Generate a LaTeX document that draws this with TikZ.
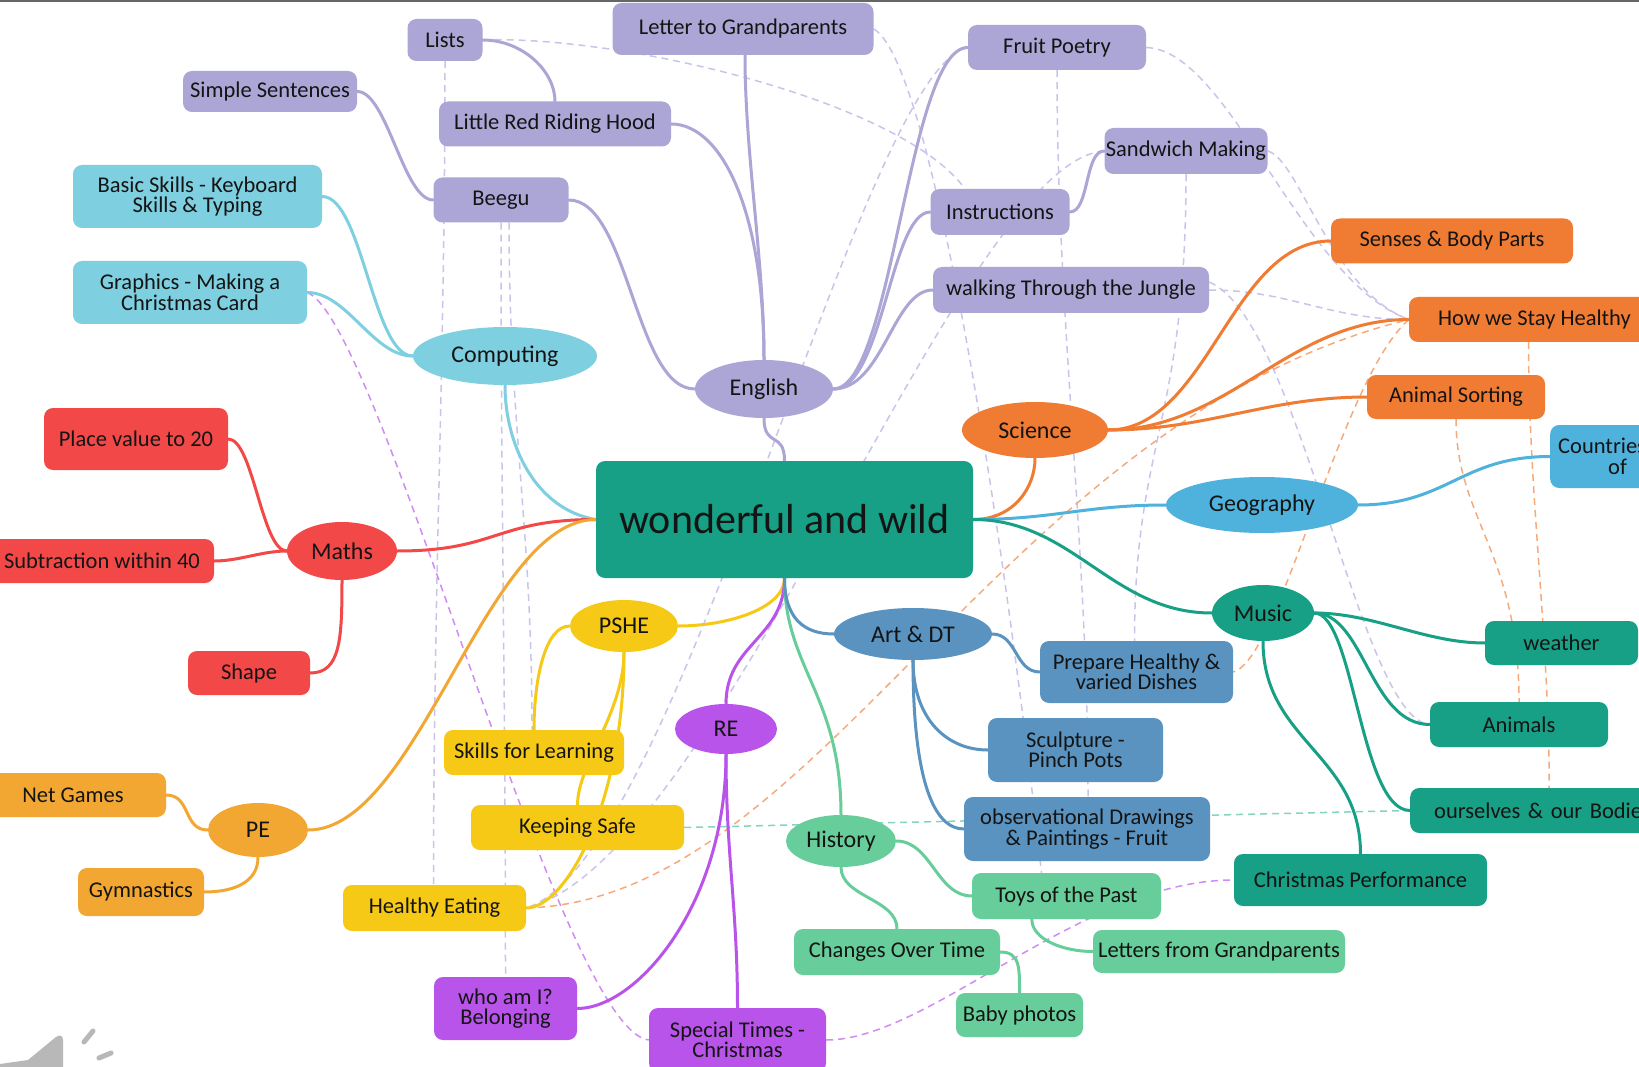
\documentclass[tikz,border=0pt]{standalone}
\usepackage{fontspec}
\setmainfont{Carlito}
\usetikzlibrary{shapes.geometric}
\pgfdeclarelayer{back}
\pgfdeclarelayer{dl}
\pgfdeclarelayer{bg}
\pgfsetlayers{back,dl,bg,main}
\definecolor{teal1}{HTML}{17A085}
\definecolor{engc}{HTML}{ABA6D5}
\definecolor{engd}{HTML}{C9C5EA}
\definecolor{comp}{HTML}{7ECFE0}
\definecolor{mathc}{HTML}{F24848}
\definecolor{pec}{HTML}{F3A733}
\definecolor{pshec}{HTML}{F6C916}
\definecolor{rec}{HTML}{B954EA}
\definecolor{red2}{HTML}{D08CF2}
\definecolor{hist}{HTML}{67CD9A}
\definecolor{art}{HTML}{5A93C0}
\definecolor{sci}{HTML}{F07B32}
\definecolor{scid}{HTML}{F6AA7C}
\definecolor{geo}{HTML}{4FB2DC}
\definecolor{tealdash}{HTML}{86D3BF}
\definecolor{txt}{HTML}{141414}
\newcommand\mmlab{\fontsize{22.5}{20.5}\selectfont}
\newcommand\mmtop{\fontsize{24}{26}\selectfont}
\begin{document}
\begin{tikzpicture}[x=1pt,y=-1pt,
  box/.style={rectangle, rounded corners=9pt, inner sep=0pt, align=center, text=txt, font=\mmlab},
  topic/.style={ellipse, inner sep=0pt, text=txt, font=\mmtop},
  link/.style={line width=3pt, line cap=round},
  xlink/.style={line width=1.5pt, dash pattern=on 7pt off 5pt}]
\useasboundingbox (0,0) rectangle (1639,1067);
\begin{pgfonlayer}{back}
\fill[white] (0,0) rectangle (1639,1067);
\end{pgfonlayer}
\draw[line width=2pt, black!60] (0,1) -- (1639,1);

% central
\node[box, fill=teal1, minimum width=377pt, minimum height=117pt, font=\fontsize{42}{44}\selectfont] (c) at (784.5,519.5) {wonderful and wild};

% topics
\node[topic, fill=engc, minimum width=138pt, minimum height=58pt] (eng) at (764,389) {English};
\node[topic, fill=comp, minimum width=184pt, minimum height=58pt] (comp) at (505,356) {Computing};
\node[topic, fill=sci, minimum width=146pt, minimum height=56pt] (sci) at (1035,430) {Science};
\node[topic, fill=geo, minimum width=192pt, minimum height=56pt] (geo) at (1262,505) {Geography};
\node[topic, fill=teal1, minimum width=102pt, minimum height=56pt] (mus) at (1263,613) {Music};
\node[topic, fill=art, minimum width=158pt, minimum height=52pt] (art) at (913,634) {Art \& DT};
\node[topic, fill=hist, minimum width=110pt, minimum height=52pt] (hist) at (841,841) {History};
\node[topic, fill=rec, minimum width=102pt, minimum height=50pt] (re) at (726,729) {RE};
\node[topic, fill=pshec, minimum width=108pt, minimum height=52pt] (pshe) at (624,626) {PSHE};
\node[topic, fill=pec, minimum width=100pt, minimum height=54pt] (pe) at (258,830) {PE};
\node[topic, fill=mathc, minimum width=110pt, minimum height=58pt] (maths) at (342,551) {Maths};

% English
\node[box, fill=engc, minimum width=75pt, minimum height=42pt] (lists) at (445,40) {Lists};
\node[box, fill=engc, minimum width=261pt, minimum height=52pt] (letter) at (743,29) {Letter to Grandparents};
\node[box, fill=engc, minimum width=174pt, minimum height=41pt] (simple) at (270,91.5) {Simple Sentences};
\node[box, fill=engc, minimum width=232pt, minimum height=45pt] (lrrh) at (555,124) {Little Red Riding Hood};
\node[box, fill=engc, minimum width=135pt, minimum height=45pt] (beegu) at (501,200) {Beegu};
\node[box, fill=engc, minimum width=178pt, minimum height=45pt] (fruit) at (1057,47.5) {Fruit Poetry};
\node[box, fill=engc, minimum width=163pt, minimum height=46pt] (sandwich) at (1186,151) {Sandwich Making};
\node[box, fill=engc, minimum width=139pt, minimum height=46pt] (instr) at (1000,212) {Instructions};
\node[box, fill=engc, minimum width=276pt, minimum height=46pt] (walk) at (1071,290) {walking Through the Jungle};

% Science
\node[box, fill=sci, minimum width=242pt, minimum height=45pt] (senses) at (1452,241) {Senses \& Body Parts};
\node[box, fill=sci, minimum width=251pt, minimum height=45pt] (healthy) at (1534.5,319.5) {How we Stay Healthy};
\node[box, fill=sci, minimum width=178pt, minimum height=44pt] (animsort) at (1456,397) {Animal Sorting};

% Geography
\node[box, fill=geo, anchor=west, minimum height=63pt, text width=230pt, align=left, inner xsep=8pt] (countries) at (1550,456.5) {Countries\\\hspace*{50pt}of};

% Music
\node[box, fill=teal1, minimum width=153pt, minimum height=44pt] (weather) at (1561.5,643) {weather};
\node[box, fill=teal1, minimum width=178pt, minimum height=45pt] (animals) at (1519,724.5) {Animals};
\node[box, fill=teal1, anchor=west, minimum height=45pt, text width=300pt, align=left, inner xsep=24pt] (ourselves) at (1410,810.5) {ourselves \& our Bodies};
\node[box, fill=teal1, minimum width=253pt, minimum height=52pt] (christmas) at (1360.5,880) {Christmas Performance};

% Art & DT
\node[box, fill=art, minimum width=193pt, minimum height=62pt] (prepare) at (1136.5,672) {Prepare Healthy \&\\varied Dishes};
\node[box, fill=art, minimum width=175pt, minimum height=64pt] (sculpt) at (1075.5,750) {Sculpture -\\Pinch Pots};
\node[box, fill=art, minimum width=246pt, minimum height=64pt] (obs) at (1087,829) {observational Drawings\\\& Paintings - Fruit};

% History
\node[box, fill=hist, minimum width=189pt, minimum height=46pt] (toys) at (1066.5,896) {Toys of the Past};
\node[box, fill=hist, minimum width=206pt, minimum height=46pt] (changes) at (897,952) {Changes Over Time};
\node[box, fill=hist, minimum width=252pt, minimum height=43pt] (letters) at (1219,951.5) {Letters from Grandparents};
\node[box, fill=hist, minimum width=127pt, minimum height=44pt] (baby) at (1019.5,1015) {Baby photos};

% RE
\node[box, fill=rec, minimum width=143pt, minimum height=63pt] (whoami) at (505.5,1008.5) {who am I?\\Belonging};
\node[box, fill=rec, minimum width=177pt, minimum height=64pt] (special) at (737.5,1040) {Special Times -\\Christmas};

% PSHE
\node[box, fill=pshec, minimum width=180pt, minimum height=45pt] (skills) at (534,752.5) {Skills for Learning};
\node[box, fill=pshec, minimum width=213pt, minimum height=45pt] (keeping) at (577.5,827.5) {Keeping Safe};
\node[box, fill=pshec, minimum width=183pt, minimum height=46pt] (heating) at (434.5,908) {Healthy Eating};

% PE
\node[box, fill=pec, minimum width=186pt, minimum height=44pt] (netgames) at (73,795) {Net Games};
\node[box, fill=pec, minimum width=126pt, minimum height=48pt] (gym) at (141,892) {Gymnastics};

% Maths
\node[box, fill=mathc, minimum width=184pt, minimum height=62pt] (place) at (136,439) {Place value to 20};
\node[box, fill=mathc, minimum width=224pt, minimum height=44pt] (subtr) at (102,561) {Subtraction within 40};
\node[box, fill=mathc, minimum width=122pt, minimum height=44pt] (shape) at (249,673) {Shape};

% Computing
\node[box, fill=comp, minimum width=249pt, minimum height=63pt] (basic) at (197.5,196.5) {Basic Skills - Keyboard\\Skills \& Typing};
\node[box, fill=comp, minimum width=234pt, minimum height=63pt] (graphics) at (190,292.5) {Graphics - Making a\\Christmas Card};

% speaker icon
\fill[black!28] (0,1067) -- (0,1064) -- (28,1060) -- (56,1037) .. controls (60,1034) and (63,1036) .. (63,1040) -- (63,1067) -- cycle;
\draw[black!28, line width=5pt, line cap=round] (84,1042) -- (93,1031);
\draw[black!28, line width=5pt, line cap=round] (99,1058) -- (111,1053);

% dashed cross links
\begin{pgfonlayer}{dl}
\draw[xlink, engd] (lists.east) .. controls (620,35) and (900,100) .. ([xshift=-35pt]instr.north);
\draw[xlink, engd] (letter.east) .. controls (930,60) and (1000,500) .. ([xshift=-25pt]toys.north);
\draw[xlink, engd] (fruit.west) .. controls (860,70) and (680,860) .. (heating.east);
\draw[xlink, engd] (sandwich.west) .. controls (960,160) and (720,860) .. (heating.east);
\draw[xlink, engd] (fruit.south) .. controls +(0,250) and +(0,-250) .. ([xshift=1pt]obs.north);
\draw[xlink, engd] (sandwich.south) .. controls +(0,250) and +(0,-200) .. ([xshift=-2pt]prepare.north);
\draw[xlink, engd] (lists.south) .. controls +(0,300) and +(0,-300) .. ([xshift=-1pt]heating.north);
\draw[xlink, engd] (beegu.south) .. controls +(0,300) and +(0,-300) .. (whoami.north);
\draw[xlink, engd] ([xshift=8pt]beegu.south) .. controls +(0,200) and +(0,-200) .. ([xshift=-2pt]skills.north);
\draw[xlink, engd] (walk.east) .. controls +(80,0) and +(-80,0) .. (healthy.west);
\draw[xlink, engd] (fruit.east) .. controls (1230,50) and (1300,280) .. (healthy.west);
\draw[xlink, engd] (sandwich.east) .. controls (1300,160) and (1330,290) .. (healthy.west);
\draw[xlink, engd] ([yshift=8pt]walk.east) .. controls (1300,320) and (1360,720) .. (animals.west);
\draw[xlink, red2] (graphics.east) .. controls (380,320) and (560,1030) .. (special.west);
\draw[xlink, red2] (special.east) .. controls (930,1040) and (1080,880) .. (christmas.west);
\draw[xlink, scid] (heating.east) .. controls (820,900) and (1000,420) .. (healthy.west);
\draw[xlink, scid] (healthy.west) .. controls (1340,380) and (1280,660) .. (prepare.east);
\draw[xlink, scid] ([xshift=-6pt]healthy.south) .. controls +(0,150) and +(0,-150) .. ([xshift=-35pt]ourselves.north);
\draw[xlink, scid] (animsort.south) .. controls +(0,100) and +(0,-150) .. (animals.north);
\draw[xlink, tealdash] (keeping.east) -- (ourselves.west);
\end{pgfonlayer}

% solid connectors
\begin{pgfonlayer}{bg}
% central
\draw[link, engc] (c.north) .. controls +(0,-30) and +(0,30) .. (eng.south);
\draw[link, comp] (c.west) .. controls +(-60,-10) and +(0,60) .. (comp.south);
\draw[link, mathc] (c.west) .. controls +(-100,0) and +(100,0) .. (maths.east);
\draw[link, pec] (c.west) .. controls +(-110,0) and +(110,0) .. (pe.east);
\draw[link, pshec] (c.south) .. controls +(0,30) and +(50,0) .. (pshe.east);
\draw[link, rec] (c.south) .. controls +(0,60) and +(0,-60) .. (re.north);
\draw[link, hist] (c.south) .. controls +(0,90) and +(0,-120) .. (hist.north);
\draw[link, art] (c.south) .. controls +(0,40) and +(-30,0) .. (art.west);
\draw[link, sci] (c.east) .. controls +(40,0) and +(0,30) .. (sci.south);
\draw[link, geo] (c.east) .. controls +(80,0) and +(-80,0) .. (geo.west);
\draw[link, teal1] (c.east) .. controls +(100,0) and +(-100,0) .. (mus.west);
% English
\draw[link, engc] (eng.west) .. controls +(-60,0) and +(60,0) .. (beegu.east);
\draw[link, engc] (eng.north) .. controls +(0,-100) and +(0,100) .. ([xshift=2pt]letter.south);
\draw[link, engc] (eng.north) .. controls +(0,-150) and +(50,0) .. (lrrh.east);
\draw[link, engc] (lists.east) .. controls +(40,0) and +(0,-30) .. (lrrh.north);
\draw[link, engc] (simple.east) .. controls +(30,0) and +(-30,0) .. (beegu.west);
\draw[link, engc] (eng.east) .. controls +(60,0) and +(-60,0) .. (fruit.west);
\draw[link, engc] (eng.east) .. controls +(50,0) and +(-40,0) .. (instr.west);
\draw[link, engc] (eng.east) .. controls +(50,0) and +(-40,0) .. (walk.west);
\draw[link, engc] (instr.east) .. controls +(20,0) and +(-20,0) .. (sandwich.west);
% Computing
\draw[link, comp] (comp.west) .. controls +(-40,0) and +(40,0) .. (basic.east);
\draw[link, comp] (comp.west) .. controls +(-40,0) and +(40,0) .. (graphics.east);
% Maths
\draw[link, mathc] (maths.west) .. controls +(-25,0) and +(25,0) .. (place.east);
\draw[link, mathc] (maths.west) .. controls +(-25,0) and +(25,0) .. (subtr.east);
\draw[link, mathc] (maths.south) .. controls +(0,60) and +(30,0) .. (shape.east);
% PE
\draw[link, pec] (pe.west) .. controls +(-25,0) and +(25,0) .. (netgames.east);
\draw[link, pec] (pe.south) .. controls +(0,25) and +(30,0) .. (gym.east);
% PSHE
\draw[link, pshec] (pshe.west) .. controls +(-25,0) and +(0,-50) .. (skills.north);
\draw[link, pshec] (pshe.south) .. controls +(0,60) and +(0,-40) .. (keeping.north);
\draw[link, pshec] (pshe.south) .. controls +(0,150) and +(40,0) .. (heating.east);
% RE
\draw[link, rec] (re.south) .. controls +(0,150) and +(60,0) .. (whoami.east);
\draw[link, rec] (re.south) .. controls +(0,100) and +(0,-100) .. (special.north);
% History
\draw[link, hist] (hist.east) .. controls +(35,0) and +(-35,0) .. (toys.west);
\draw[link, hist] (hist.south) .. controls +(0,30) and +(0,-30) .. (changes.north);
\draw[link, hist] ([xshift=60pt]toys.south west) .. controls +(0,20) and +(-30,0) .. (letters.west);
\draw[link, hist] (changes.east) .. controls +(20,0) and +(0,-25) .. (baby.north);
% Art
\draw[link, art] (art.east) .. controls +(25,0) and +(-25,0) .. (prepare.west);
\draw[link, art] (art.south) .. controls +(0,60) and +(-40,0) .. (sculpt.west);
\draw[link, art] (art.south) .. controls +(0,120) and +(-30,0) .. (obs.west);
% Science
\draw[link, sci] (sci.east) .. controls +(100,0) and +(-100,0) .. (senses.west);
\draw[link, sci] (sci.east) .. controls +(120,0) and +(-120,0) .. (healthy.west);
\draw[link, sci] (sci.east) .. controls +(100,0) and +(-100,0) .. (animsort.west);
% Geography
\draw[link, geo] (geo.east) .. controls +(90,0) and +(-90,0) .. (countries.west);
% Music
\draw[link, teal1] (mus.east) .. controls +(60,0) and +(-60,0) .. (weather.west);
\draw[link, teal1] (mus.east) .. controls +(50,0) and +(-60,0) .. (animals.west);
\draw[link, teal1] (mus.east) .. controls +(40,0) and +(-50,0) .. (ourselves.west);
\draw[link, teal1] (mus.south) .. controls +(0,100) and +(0,-100) .. (christmas.north);
\end{pgfonlayer}
\end{tikzpicture}
\end{document}
